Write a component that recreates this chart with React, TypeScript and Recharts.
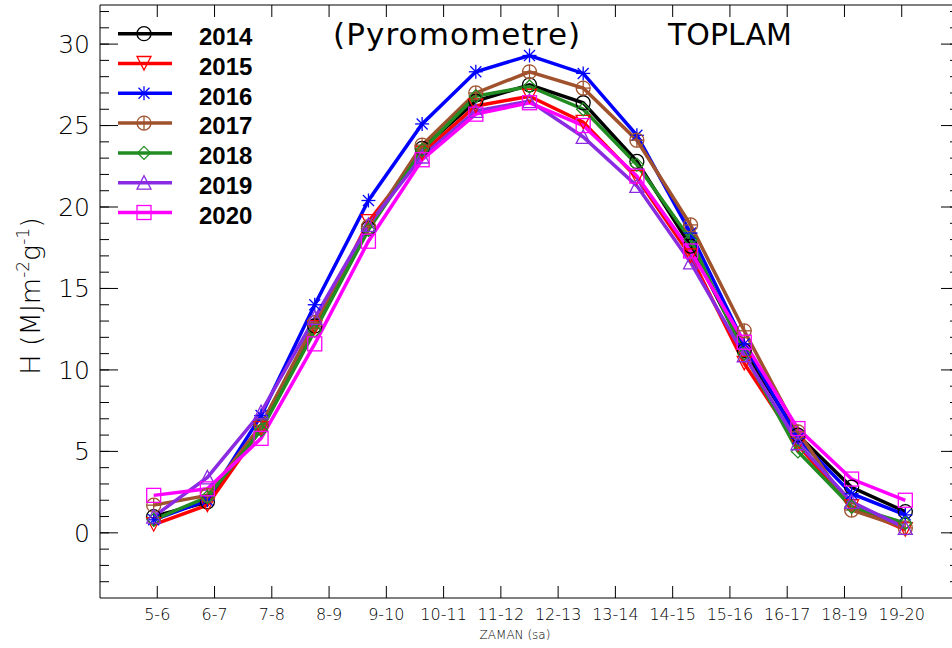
import React from 'react';
import { LineChart, Line, XAxis, YAxis, Legend } from 'recharts';

// ---- data ----
const YEARS = ['2014', '2015', '2016', '2017', '2018', '2019', '2020'];
const TICK_LABELS = ['5-6', '6-7', '7-8', '8-9', '9-10', '10-11', '11-12', '12-13', '13-14', '14-15', '15-16', '16-17', '18-19', '19-20'];
const TICK_POS = [1, 2, 3, 4, 5, 6, 7, 8, 9, 10, 11, 12, 13, 14];
const POINT_POS = [1, 2, 3, 4, 5, 6, 7, 8, 9, 10, 11, 12, 13, 14, 15];
const H2014 = [1.0, 1.9, 6.6, 12.7, 18.7, 23.6, 26.5, 27.5, 26.4, 22.8, 17.6, 11.2, 6.0, 2.8, 1.3];
const H2015 = [0.5, 1.7, 6.4, 12.6, 19.1, 23.3, 26.2, 26.8, 25.2, 21.8, 17.0, 10.4, 5.4, 1.6, 0.2];
const H2016 = [0.8, 2.0, 7.2, 14.0, 20.4, 25.1, 28.3, 29.3, 28.2, 24.4, 18.4, 11.6, 5.8, 2.4, 1.1];
const H2017 = [1.7, 2.3, 6.6, 12.9, 18.8, 23.8, 27.0, 28.3, 27.3, 24.1, 18.9, 12.4, 6.2, 1.4, 0.3];
const H2018 = [0.8, 2.2, 6.3, 12.4, 18.6, 23.5, 26.8, 27.4, 26.0, 22.6, 18.0, 11.0, 5.0, 1.6, 0.6];
const H2019 = [1.0, 3.4, 7.4, 13.2, 18.9, 23.1, 25.9, 26.5, 24.3, 21.3, 16.6, 10.9, 5.5, 1.9, 0.3];
const H2020 = [2.3, 2.7, 5.8, 11.6, 17.9, 22.9, 25.7, 26.4, 25.0, 21.9, 17.3, 11.7, 6.4, 3.3, 2.0];
const MAJOR_TICKS = [0, 5, 10, 15, 20, 25, 30];
const MINOR_TICKS = [-3, -2, -1, 0, 1, 2, 3, 4, 5, 6, 7, 8, 9, 10, 11, 12, 13, 14, 15, 16, 17, 18, 19, 20, 21, 22, 23, 24, 25, 26, 27, 28, 29, 30, 31, 32];

const VALUES = [H2014, H2015, H2016, H2017, H2018, H2019, H2020];
const COLORS = ['#000000', '#ff0000', '#0000ff', '#a0522d', '#228b22', '#8a2be2', '#ff00ff'];
const SHAPES = ['circle', 'triDown', 'star', 'circlePlus', 'diamond', 'triUp', 'square'];

const SERIES = YEARS.map((name, k) => ({ name, key: 'y' + name, color: COLORS[k], shape: SHAPES[k], values: VALUES[k] }));

const rows = POINT_POS.map((x, i) => {
  const r: any = { x };
  SERIES.forEach((s) => { r[s.key] = s.values[i]; });
  return r;
});

const THIN = 'DejaVu Sans, Verdana, sans-serif';

function Marker({ shape, cx, cy, color }: any) {
  if (cx == null || cy == null) return null;
  const c = { fill: 'none', stroke: color, strokeWidth: 1.3 };
  switch (shape) {
    case 'circle':
      return <circle cx={cx} cy={cy} r={7} {...c} />;
    case 'triDown':
      return <polygon points={`${cx - 7},${cy - 7} ${cx + 7},${cy - 7} ${cx},${cy + 6.5}`} {...c} />;
    case 'star':
      return (
        <g {...c}>
          <line x1={cx} y1={cy - 7} x2={cx} y2={cy + 7} />
          <line x1={cx - 7} y1={cy} x2={cx + 7} y2={cy} />
          <line x1={cx - 5.5} y1={cy - 5.5} x2={cx + 5.5} y2={cy + 5.5} />
          <line x1={cx - 5.5} y1={cy + 5.5} x2={cx + 5.5} y2={cy - 5.5} />
        </g>
      );
    case 'circlePlus':
      return (
        <g {...c}>
          <circle cx={cx} cy={cy} r={7} />
          <line x1={cx} y1={cy - 7} x2={cx} y2={cy + 7} />
          <line x1={cx - 7} y1={cy} x2={cx + 7} y2={cy} />
        </g>
      );
    case 'diamond':
      return <polygon points={`${cx},${cy - 6.5} ${cx + 6.5},${cy} ${cx},${cy + 6.5} ${cx - 6.5},${cy}`} {...c} />;
    case 'triUp':
      return <polygon points={`${cx - 7},${cy + 6.5} ${cx + 7},${cy + 6.5} ${cx},${cy - 7}`} {...c} />;
    case 'square':
      return <rect x={cx - 7} y={cy - 7} width={14} height={14} {...c} />;
    default:
      return null;
  }
}

const renderLegend = () => (
  <svg width={170} height={215} style={{ display: 'block', overflow: 'visible' }}>
    {SERIES.map((s, k) => {
      const y = 14.7 + k * 29.8;
      return (
        <g key={s.name}>
          <line x1={8} x2={62} y1={y} y2={y} stroke={s.color} strokeWidth={3.5} />
          <Marker shape={s.shape} cx={34} cy={y} color={s.color} />
          <text x={89} y={y + 11.3} fontFamily="Liberation Sans, Arial, sans-serif" fontWeight="bold" fontSize={24} fill="#000">
            {s.name}
          </text>
        </g>
      );
    })}
  </svg>
);

const YTitle = () => (
  <text transform="rotate(-90 40 296)" x={40} y={296} textAnchor="middle" fontFamily={THIN} fontWeight={200} fontSize={27} fill="#000">
    <tspan>H (MJm</tspan>
    <tspan dy={-11} fontSize={17}>-2</tspan>
    <tspan dy={11}>g</tspan>
    <tspan dy={-11} fontSize={17}>-1</tspan>
    <tspan dy={11}>)</tspan>
  </text>
);

const XTitle = () => (
  <text x={515} y={639} textAnchor="middle" fontFamily={THIN} fontWeight={200} fontSize={12} fill="#000">
    ZAMAN (sa)
  </text>
);

const TopTitles = () => (
  <g>
    <text x={333} y={45} fontFamily={THIN} fontSize={31} letterSpacing={1.1} fill="#000">(Pyromometre)</text>
    <text x={668} y={45} fontFamily={THIN} fontSize={30} fill="#000">TOPLAM</text>
  </g>
);

const empty = () => '';

export default function App() {
  return (
    <div style={{ position: 'absolute', left: 0, top: 0, width: 952, height: 648, overflow: 'hidden', background: '#fff' }}>
      <LineChart width={962} height={648} data={rows} margin={{ top: 5, right: 3, bottom: 0, left: 0 }}>
        <XAxis xAxisId="xl" type="number" dataKey="x" domain={[0, 15]} allowDataOverflow ticks={TICK_POS} interval={0}
          tickFormatter={(v: number) => TICK_LABELS[Math.round(v) - 1] ?? ''}
          height={50} tickLine={false} tickSize={0} tickMargin={11} stroke="#000"
          tick={{ fontSize: 16, fill: '#000', fontFamily: THIN, fontWeight: 200 }} label={<XTitle />} />
        <XAxis xAxisId="xd" type="number" dataKey="x" domain={[0, 16]} allowDataOverflow hide height={0} />
        <XAxis xAxisId="xb" type="number" dataKey="x" domain={[0, 15]} allowDataOverflow ticks={TICK_POS} interval={0}
          mirror tickSize={12} axisLine={false} tickFormatter={empty} stroke="#000" tickLine={{ stroke: '#000' }} />
        <XAxis xAxisId="xt" orientation="top" type="number" dataKey="x" domain={[0, 15]} allowDataOverflow ticks={TICK_POS} interval={0}
          mirror tickSize={12} tickFormatter={empty} stroke="#000" label={<TopTitles />} />
        <YAxis yAxisId="yl" type="number" domain={[-4, 32.4]} allowDataOverflow ticks={MAJOR_TICKS} interval={0} width={100}
          tickLine={false} tickSize={0} tickMargin={10} stroke="#000"
          tick={{ fontSize: 25, fill: '#000', fontFamily: THIN, fontWeight: 200 }} label={<YTitle />} />
        <YAxis yAxisId="ylM" type="number" domain={[-4, 32.4]} allowDataOverflow ticks={MAJOR_TICKS} interval={0} width={0.01}
          mirror tickSize={18} axisLine={false} tickFormatter={empty} stroke="#000" />
        <YAxis yAxisId="ylm" type="number" domain={[-4, 32.4]} allowDataOverflow ticks={MINOR_TICKS} interval={0} width={0.01}
          mirror tickSize={9} axisLine={false} tickFormatter={empty} stroke="#000" />
        <YAxis yAxisId="yr" orientation="right" type="number" domain={[-4, 32.4]} allowDataOverflow ticks={MAJOR_TICKS} interval={0} width={0.01}
          mirror tickSize={18} tickFormatter={empty} stroke="#000" />
        <YAxis yAxisId="yrm" orientation="right" type="number" domain={[-4, 32.4]} allowDataOverflow ticks={MINOR_TICKS} interval={0} width={0.01}
          mirror tickSize={9} axisLine={false} tickFormatter={empty} stroke="#000" />
        <Legend layout="vertical" align="center" verticalAlign="middle"
          wrapperStyle={{ left: 110, top: 19, width: 170, height: 215 }} content={renderLegend} />
        {SERIES.map((s) => (
          <Line key={s.key} xAxisId="xd" yAxisId="yl" type="linear" dataKey={s.key} name={s.name}
            stroke={s.color} strokeWidth={3.5} isAnimationActive={false}
            dot={(p: any) => <Marker key={`${s.key}-${p.index}`} shape={s.shape} cx={p.cx} cy={p.cy} color={s.color} />}
            activeDot={false} />
        ))}
      </LineChart>
    </div>
  );
}
